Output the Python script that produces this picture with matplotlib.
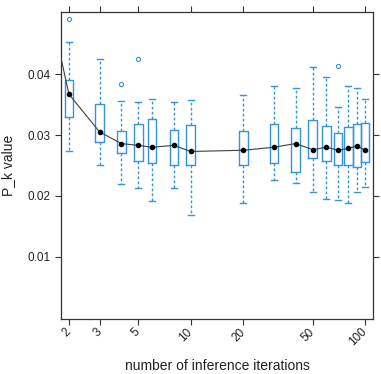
import numpy as np
import matplotlib
matplotlib.use("Agg")
import matplotlib.pyplot as plt

plt.rcParams['font.family'] = ['Liberation Sans', 'DejaVu Sans']

# number of inference iterations and the box statistics of P_k
iterations = [2, 3, 4, 5, 6, 8, 10, 20, 30, 40, 50, 60, 70, 80, 90, 100]
medians = [0.0367, 0.0305, 0.0286, 0.0283, 0.0280, 0.0283, 0.0273, 0.0275,
           0.0280, 0.0286, 0.0276, 0.0280, 0.0275, 0.0278, 0.0282, 0.0275]
q1 = [0.0330, 0.0289, 0.0270, 0.0258, 0.0254, 0.0250, 0.0251, 0.0250,
      0.0254, 0.0240, 0.0262, 0.0258, 0.0251, 0.0251, 0.0248, 0.0256]
q3 = [0.0391, 0.0351, 0.0306, 0.0318, 0.0327, 0.0308, 0.0316, 0.0307,
      0.0318, 0.0312, 0.0325, 0.0315, 0.0304, 0.0313, 0.0318, 0.0319]
whis_lo = [0.0274, 0.0250, 0.0219, 0.0213, 0.0192, 0.0213, 0.0168, 0.0188,
           0.0226, 0.0221, 0.0206, 0.0195, 0.0194, 0.0188, 0.0207, 0.0214]
whis_hi = [0.0452, 0.0425, 0.0356, 0.0354, 0.0359, 0.0355, 0.0357, 0.0365,
           0.0381, 0.0378, 0.0411, 0.0395, 0.0346, 0.0380, 0.0378, 0.0359]
outliers = [[0.0490], [], [0.0383], [0.0425], [], [], [], [],
            [], [], [], [], [0.0414], [], [], []]

# the average line starts off-panel at 1 iteration
line_x = [1] + iterations
line_y = [0.076] + medians

xticks = [2, 3, 5, 10, 20, 50, 100]
blue = '#3592e0'

fig = plt.figure(figsize=(3.81, 3.74), dpi=100)
ax = fig.add_axes([0.160, 0.147, 0.819, 0.821])

stats = []
for i in range(len(iterations)):
    stats.append(dict(med=medians[i], q1=q1[i], q3=q3[i],
                      whislo=whis_lo[i], whishi=whis_hi[i],
                      fliers=outliers[i]))

pos = np.log10(iterations)
ax.bxp(stats, positions=pos, widths=0.05, showfliers=True,
       boxprops=dict(color=blue, lw=1.0),
       whiskerprops=dict(color=blue, lw=1.0, linestyle=(0, (2, 1.6))),
       capprops=dict(color=blue, lw=1.0),
       medianprops=dict(visible=False),
       flierprops=dict(marker='o', markersize=3, markerfacecolor='none',
                       markeredgecolor=blue, markeredgewidth=0.8),
       capwidths=0.035, manage_ticks=False)

ax.plot(np.log10(line_x), line_y, color='#404040', lw=0.8, zorder=3)
ax.plot(pos, medians, 'o', color='black', markersize=3, zorder=4)

ax.set_xlim(np.log10(1.80), np.log10(111))
ax.set_ylim(-0.0002, 0.0502)
ax.set_xticks(np.log10(xticks))
ax.set_xticklabels([str(t) for t in xticks], rotation=45, ha='right',
                   va='center', rotation_mode='anchor')
ax.set_yticks([0.01, 0.02, 0.03, 0.04])
ax.set_yticklabels(['0.01', '0.02', '0.03', '0.04'])
ax.tick_params(axis='both', direction='out', length=4, width=0.8,
               labelsize=8.5, colors='#333333', top=True, right=True,
               labeltop=False, labelright=False)
ax.tick_params(axis='both', labelcolor='#222222')
ax.tick_params(axis='x', pad=4)
for s in ax.spines.values():
    s.set_color('#333333')
    s.set_linewidth(0.9)

ax.set_xlabel('number of inference iterations', fontsize=10, color='#222222')
ax.xaxis.set_label_coords(0.5, -0.152)
ax.xaxis.label.set_va('center')
ax.set_ylabel('P_k value', fontsize=10, color='#222222')
ax.yaxis.set_label_coords(-0.148, 0.5)

fig.savefig('out.png', dpi=100)
